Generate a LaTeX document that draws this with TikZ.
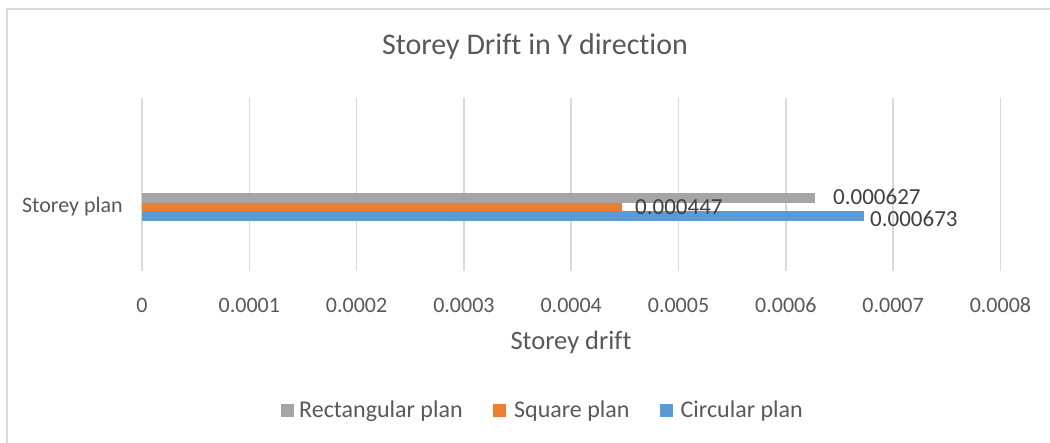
\documentclass[tikz,border=0pt]{standalone}
\usepackage{fontspec}
\setmainfont{Carlito}[Ligatures=NoCommon]
\definecolor{gridc}{HTML}{D9D9D9}
\definecolor{txt}{HTML}{595959}
\definecolor{lbl}{HTML}{404040}
\definecolor{cgray}{HTML}{A5A5A5}
\definecolor{corange}{HTML}{ED7D31}
\definecolor{cblue}{HTML}{5B9BD5}
\begin{document}
\begin{tikzpicture}[x=1pt,y=-1pt,
  gridline/.style={gridc,line width=1.5pt},
  ticklbl/.style={text=txt,font=\fontsize{22}{26}\selectfont,inner sep=0pt},
  datalbl/.style={text=lbl,font=\fontsize{23}{27}\selectfont,inner sep=0pt,anchor=west},
  legbox/.style={minimum size=13pt,inner sep=0pt},
  legtxt/.style={text=txt,font=\fontsize{24}{28}\selectfont,inner sep=0pt,anchor=west}]
\useasboundingbox (0,0) rectangle (1050,443);
\fill[white] (0,0) rectangle (1050,443);
\draw[gridc,line width=2pt] (7,443) -- (7,9.5) -- (1050,9.5);
% title
\node[text=txt,font=\fontsize{30}{34}\selectfont,inner sep=0pt] (title) at (535,47) {Storey Drift in Y direction};
% gridlines
\foreach \k in {0,...,8} \draw[gridline] ({142+\k*107.3},98) -- ({142+\k*107.3},271);
% bars
\fill[cgray] (142,193.5) rectangle (815,203);
\fill[corange] (142,203) rectangle (621.7,211.5);
\fill[cblue] (142,211.5) rectangle (864.2,221);
% category label
\node[ticklbl,anchor=east] (cat) at (123,207) {Storey plan};
% data labels
\node[datalbl] (v1) at (833,197) {0.000627};
\node[datalbl] (v2) at (635,207.5) {0.000447};
\node[datalbl] (v3) at (870,219) {0.000673};
% tick labels
\node[ticklbl] (t0) at (142,305) {0};
\node[ticklbl] (t1) at (249.3,305) {0.0001};
\node[ticklbl] (t2) at (356.6,305) {0.0002};
\node[ticklbl] (t3) at (463.9,305) {0.0003};
\node[ticklbl] (t4) at (571.2,305) {0.0004};
\node[ticklbl] (t5) at (678.5,305) {0.0005};
\node[ticklbl] (t6) at (785.8,305) {0.0006};
\node[ticklbl] (t7) at (893.1,305) {0.0007};
\node[ticklbl] (t8) at (1000.4,305) {0.0008};
% axis title
\node[text=txt,font=\fontsize{26.5}{30}\selectfont,inner sep=0pt] (xtitle) at (571,342) {Storey drift};
% legend
\node[legbox,fill=cgray] (lg1) at (287,411) {};
\node[legtxt] (lt1) at (299,411) {Rectangular plan};
\node[legbox,fill=corange] (lg2) at (499.5,411) {};
\node[legtxt] (lt2) at (514,411) {Square plan};
\node[legbox,fill=cblue] (lg3) at (666,411) {};
\node[legtxt] (lt3) at (680.5,411) {Circular plan};
\end{tikzpicture}
\end{document}
